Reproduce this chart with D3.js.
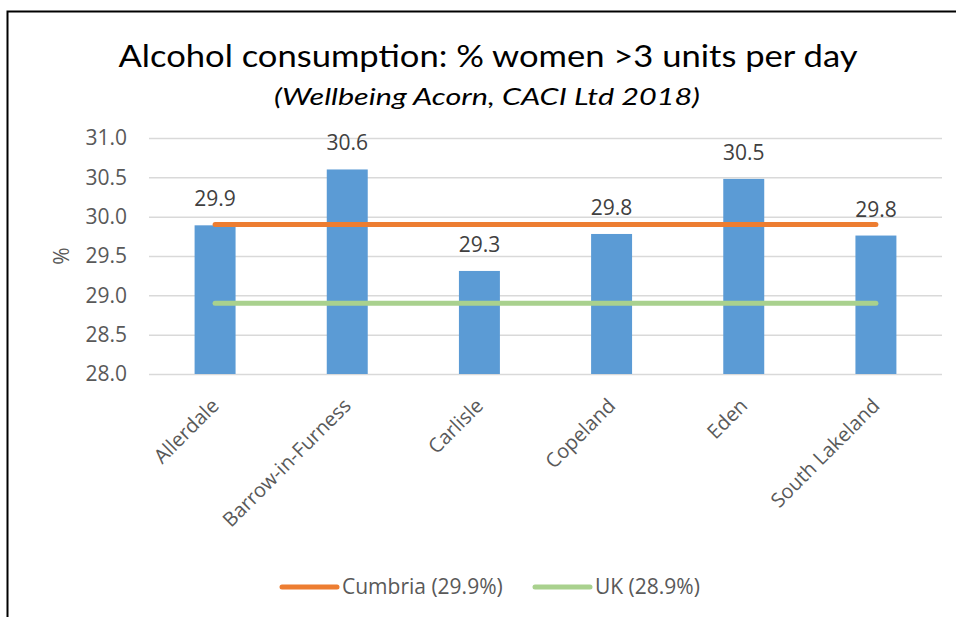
<!DOCTYPE html>
<html>
<head>
<meta charset="utf-8">
<title>alcohol women</title>
<script src="https://d3js.org/d3.v7.min.js"></script>
<style>
  html, body { margin: 0; padding: 0; background: #fff; }
  svg { display: block; font-family: 'Open Sans', sans-serif; }
</style>
</head>
<body>
<div id="chart"></div>
<script>
// data
const districts = ['Allerdale', 'Barrow-in-Furness', 'Carlisle', 'Copeland', 'Eden', 'South Lakeland']
const pctWomen = [29.89, 30.6, 29.31, 29.78, 30.48, 29.76]
const cumbriaPct = 29.9
const ukPct = 28.9
const yTicks = [28.0, 28.5, 29.0, 29.5, 30.0, 30.5, 31.0]
const legendNames = ['Cumbria (29.9%)', 'UK (28.9%)']

const W = 956, H = 617
const plot = {left: 149, right: 942, top: 138, bottom: 374}
const fs = '21px'

const svg = d3.select('#chart').append('svg')
  .attr('width', W).attr('height', H)

// frame (left + top edge only)
svg.append('path')
  .attr('d', `M7.5,${H} V11.5 H${W}`)
  .attr('fill', 'none').attr('stroke', '#000').attr('stroke-width', 2)

// title
svg.append('text')
  .attr('x', 488).attr('y', 67)
  .attr('text-anchor', 'middle')
  .style('font-family', 'Lato, sans-serif')
  .style('font-size', '30px')
  .attr('fill', '#000')
  .attr('textLength', 739).attr('lengthAdjust', 'spacingAndGlyphs')
  .text('Alcohol consumption: % women >3 units per day')

svg.append('text')
  .attr('x', 487).attr('y', 105)
  .attr('text-anchor', 'middle')
  .style('font-family', 'Lato, sans-serif')
  .style('font-size', '23px')
  .style('font-style', 'italic')
  .attr('fill', '#000')
  .attr('textLength', 426).attr('lengthAdjust', 'spacingAndGlyphs')
  .text('(Wellbeing Acorn, CACI Ltd 2018)')

// scales
const x = d3.scaleBand()
  .domain(districts)
  .range([plot.left, plot.right])
  .paddingInner(0.69)
  .paddingOuter(0.345)

const y = d3.scaleLinear()
  .domain([28, 31])
  .range([plot.bottom, plot.top])

// y axis + gridlines
const yAxis = svg.append('g')
  .attr('transform', `translate(${plot.left},0)`)
  .call(d3.axisLeft(y)
    .tickValues(yTicks)
    .tickFormat(d3.format('.1f'))
    .tickSizeInner(-(plot.right - plot.left))
    .tickSizeOuter(0)
    .tickPadding(22))
yAxis.select('.domain').remove()
yAxis.selectAll('line').attr('stroke', '#d9d9d9').attr('stroke-width', 1.5)
yAxis.selectAll('text')
  .attr('fill', '#595959')
  .style('font-family', "'Open Sans', sans-serif")
  .style('font-size', fs)

// y title
svg.append('text')
  .attr('transform', `translate(69,${(plot.top + plot.bottom) / 2}) rotate(-90)`)
  .attr('text-anchor', 'middle')
  .attr('fill', '#595959')
  .style('font-size', fs)
  .text('%')

// bars
svg.append('g').selectAll('rect')
  .data(districts)
  .join('rect')
  .attr('x', d => x(d))
  .attr('width', x.bandwidth())
  .attr('y', (d, i) => y(pctWomen[i]))
  .attr('height', (d, i) => y(28) - y(pctWomen[i]))
  .attr('fill', '#5b9bd5')

// value labels
svg.append('g').selectAll('text')
  .data(districts)
  .join('text')
  .attr('x', d => x(d) + x.bandwidth() / 2)
  .attr('y', (d, i) => y(pctWomen[i]) - 19)
  .attr('text-anchor', 'middle')
  .attr('fill', '#404040')
  .style('font-size', fs)
  .text((d, i) => d3.format('.1f')(pctWomen[i]))

// reference lines
const refLines = [
  {name: legendNames[0], value: cumbriaPct, color: '#ed7d31'},
  {name: legendNames[1], value: ukPct, color: '#a9d18e'}
]
const first = districts[0], last = districts[districts.length - 1]
svg.append('g').selectAll('line')
  .data(refLines)
  .join('line')
  .attr('x1', x(first) + x.bandwidth() / 2)
  .attr('x2', x(last) + x.bandwidth() / 2)
  .attr('y1', d => y(d.value))
  .attr('y2', d => y(d.value))
  .attr('stroke', d => d.color)
  .attr('stroke-width', 5)
  .attr('stroke-linecap', 'round')

// category labels, rotated
svg.append('g').selectAll('text')
  .data(districts)
  .join('text')
  .attr('transform', d => `translate(${x(d) + x.bandwidth() / 2 + 5},${plot.bottom + 33}) rotate(-45)`)
  .attr('text-anchor', 'end')
  .attr('fill', '#595959')
  .style('font-size', '20px')
  .text(d => d)

// legend
const legendX = [282, 535]
const lg = svg.append('g').selectAll('g')
  .data(refLines)
  .join('g')
  .attr('transform', (d, i) => `translate(${legendX[i]},587)`)
lg.append('line')
  .attr('x1', 0).attr('x2', 55)
  .attr('stroke', d => d.color)
  .attr('stroke-width', 5)
  .attr('stroke-linecap', 'round')
lg.append('text')
  .attr('x', 60).attr('y', 7)
  .attr('fill', '#595959')
  .style('font-size', fs)
  .text(d => d.name)
</script>
</body>
</html>
